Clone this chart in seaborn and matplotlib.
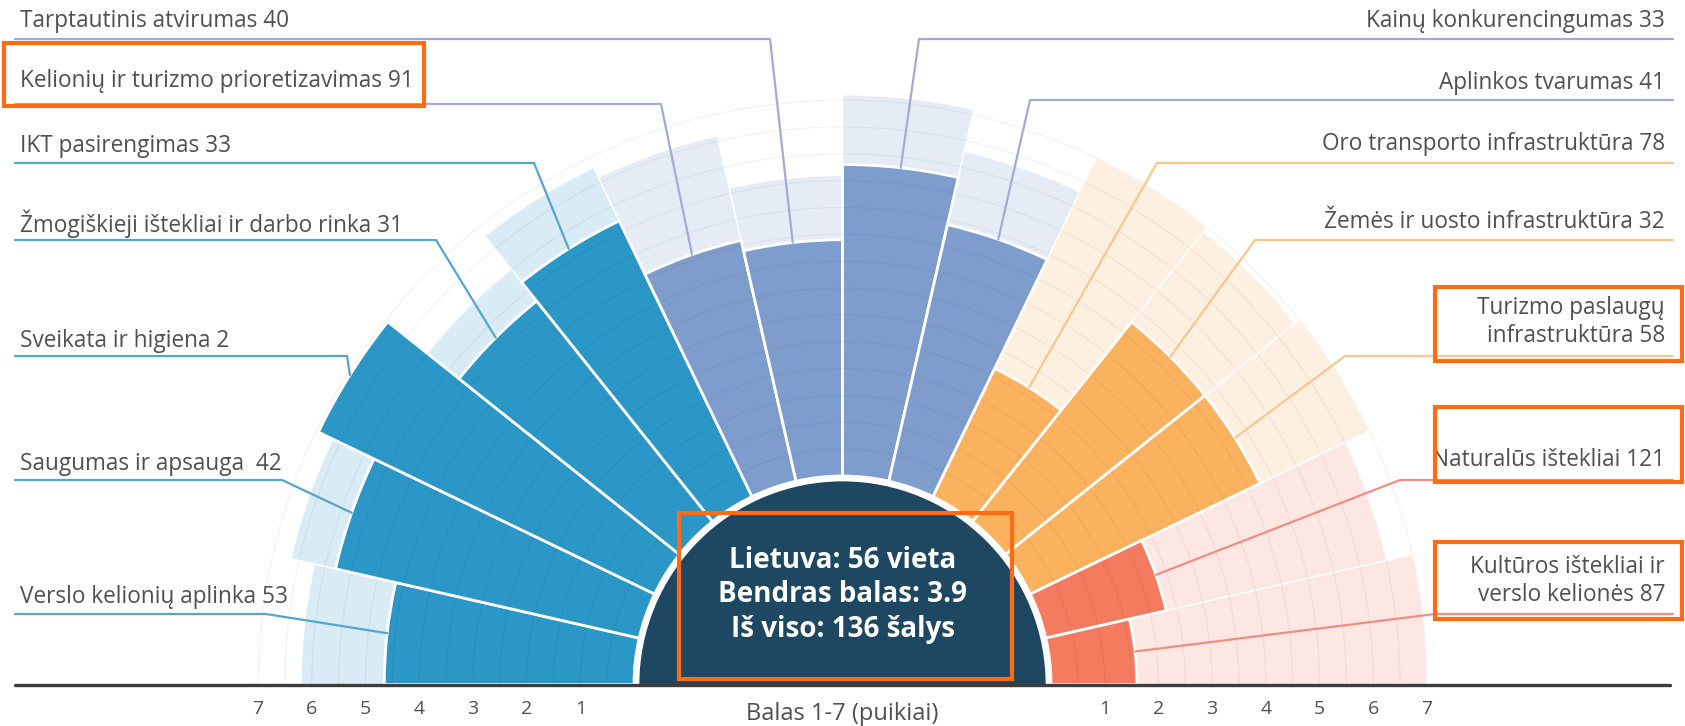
import numpy as np
import matplotlib
matplotlib.use("Agg")
import matplotlib.pyplot as plt
from matplotlib.lines import Line2D
from matplotlib.patches import Rectangle
import seaborn as sns

# TTCI pillars, from the left end of the half circle to the right end
pillars = ["Verslo kelionių aplinka", "Saugumas ir apsauga ", "Sveikata ir higiena",
           "Žmogiškieji ištekliai ir darbo rinka", "IKT pasirengimas",
           "Kelionių ir turizmo prioretizavimas", "Tarptautinis atvirumas",
           "Kainų konkurencingumas", "Aplinkos tvarumas",
           "Oro transporto infrastruktūra", "Žemės ir uosto infrastruktūra",
           "Turizmo paslaugų\ninfrastruktūra", "Naturalūs ištekliai",
           "Kultūros ištekliai ir\nverslo kelionės"]
ranks = [53, 42, 2, 31, 33, 91, 40, 33, 41, 78, 32, 58, 121, 87]
scores = [4.65, 5.8, 6.95, 5.25, 5.7, 4.6, 4.4, 5.8, 4.9, 2.65, 4.75, 4.75, 2.3, 1.6]
best = [6.2, 6.65, 6.95, 6.0, 6.8, 6.6, 5.6, 7.1, 6.3, 7.0, 6.9, 7.0, 6.5, 7.0]
groups = [0, 0, 0, 0, 0, 1, 1, 1, 1, 2, 2, 2, 3, 3]
score_ticks = [1, 2, 3, 4, 5, 6, 7]
center_lines = ["Lietuva: 56 vieta", "Bendras balas: 3.9", "Iš viso: 136 šalys"]
axis_title = "Balas 1-7 (puikiai)"

sns.set_style("white")
plt.rcParams['font.family'] = ['Open Sans', 'DejaVu Sans']

fg_pal = ['#2b97c7', '#7f9dcc', '#fbb25e', '#f47b5f']
bg_pal = ['#d9ebf4', '#e6ecf5', '#fef0e1', '#fde7e2']
line_pal = ['#55a6cd', '#a2acd0', '#f8c68e', '#ef8e83']
navy = '#1e4762'
box_col = '#ff6b12'
txt_col = '#505050'

W, H = 1685, 726
fig = plt.figure(figsize=(W / 100, H / 100), dpi=100)

# half circle geometry in pixels
cx, cy = 842.5, H - 684.5
unit = 53.7
hole = 208.5 / unit
rmax = 7.3
R = (rmax + hole) * unit
ax = fig.add_axes([(cx - R) / W, (cy - R / 2) / H, 2 * R / W, 2 * R / H],
                  projection='polar')
ax.set_thetamin(0)
ax.set_thetamax(180)
ax.set_ylim(-hole, rmax)
ax.set_facecolor('none')

n = len(pillars)
theta = np.pi - (np.arange(n) + 0.5) * np.pi / n
width = np.pi / n
fg_cols = [fg_pal[g] for g in groups]
bg_cols = [bg_pal[g] for g in groups]

ax.bar(theta, best, width=width, bottom=0, color=bg_cols, edgecolor='white',
       linewidth=1, zorder=1)
ax.bar(theta, scores, width=width, bottom=0, color=fg_cols, edgecolor='white',
       linewidth=2, zorder=2)
# dark disc in the middle
ax.bar(np.pi / 2, hole - 0.1, width=np.pi, bottom=-hole, color=navy,
       edgecolor='none', zorder=4)

ax.set_xticks([])
ax.set_yticks(np.arange(0.5, 7.01, 0.5))
ax.set_yticklabels([])
ax.grid(True, color='#000000', alpha=0.05, linewidth=0.8)
ax.set_axisbelow(False)
for s in ax.spines.values():
    s.set_visible(False)

for k in score_ticks:
    for t in (np.pi, 0):
        ax.annotate(str(k), xy=(t, k), xytext=(0, -17.5), textcoords='offset points',
                    ha='center', va='center', fontsize=14, color=txt_col,
                    annotation_clip=False)
fig.text(cx / W, 1 - 714 / H, axis_title, ha='center', va='center',
         fontsize=17, color=txt_col)

for i, line in enumerate(center_lines):
    fig.text(cx / W, 1 - (561 + 34 * i) / H, line, ha='center', va='center',
             fontsize=20, fontweight='bold', color='white')

# baseline
fig.add_artist(Line2D([15 / W, 1670 / W], [1 - 684.5 / H, 1 - 684.5 / H],
                      color='#3d3d3d', linewidth=2.4, zorder=5))

# labels with leader lines: (bar index, text y, underline y, corner x)
left_labels = [(6, 21, 39, 770), (5, 81, 104, 661), (4, 146, 163, 534),
               (3, 224, 240, 436), (2, 341, 356, 347), (1, 464, 480, 282),
               (0, 597, 614, 266)]
right_labels = [(7, 21, 39, 919), (8, 83, 100, 1030), (9, 144, 163, 1157),
                (10, 222, 240, 1255), (11, 322, 356, 1345), (12, 460, 480, 1400),
                (13, 581, 614, 1435)]

fig.canvas.draw()
to_fig = fig.transFigure.inverted()


def leader(b, y_ul, x_corner, x_end):
    ex, ey = to_fig.transform(ax.transData.transform((theta[b], scores[b])))
    xs = [x_end / W, x_corner / W, ex]
    ys = [1 - y_ul / H, 1 - y_ul / H, ey]
    fig.add_artist(Line2D(xs, ys, color=line_pal[groups[b]], linewidth=1.6, zorder=3))


for b, yt, yu, xc in left_labels:
    fig.text(20 / W, 1 - yt / H, f"{pillars[b]} {ranks[b]}", ha='left', va='center',
             fontsize=16.3, color=txt_col)
    leader(b, yu, xc, 15)

for b, yt, yu, xc in right_labels:
    fig.text(1665 / W, 1 - yt / H, f"{pillars[b]} {ranks[b]}", ha='right', va='center',
             multialignment='right', fontsize=16.3, color=txt_col, linespacing=1.25)
    leader(b, yu, xc, 1673)

# orange highlight boxes (x0, y0, x1, y1) in pixels from the top left
boxes = [(4, 43, 424, 106), (679, 513, 1012, 679), (1435, 287, 1682, 361),
         (1435, 407, 1682, 482), (1435, 542, 1682, 619)]
for x0, y0, x1, y1 in boxes:
    fig.add_artist(Rectangle((x0 / W, 1 - y1 / H), (x1 - x0) / W, (y1 - y0) / H,
                             transform=fig.transFigure, fill=False,
                             edgecolor=box_col, linewidth=3, zorder=6))

fig.savefig("out.png", dpi=100)
